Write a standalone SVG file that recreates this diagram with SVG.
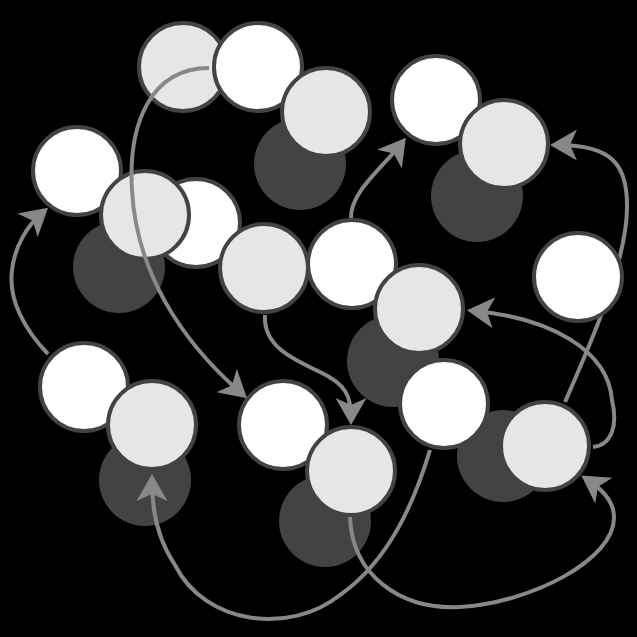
<svg xmlns="http://www.w3.org/2000/svg" width="637" height="637" viewBox="0 0 637 637">
<style>
.n{stroke:#434343;stroke-width:4}
.w{fill:#ffffff}
.l{fill:#e6e6e6}
.s{fill:#434343}
.c{fill:none;stroke:#888888;stroke-width:4}
</style>
<defs>
<marker id="ah" markerUnits="userSpaceOnUse" markerWidth="40" markerHeight="40" viewBox="-30 -20 40 40" refX="0" refY="0" orient="auto" overflow="visible">
<path d="M8,0 L-19,-15.5 L-12,0 L-19,15.5 Z" fill="#888888"/>
</marker>
</defs>
<rect width="637" height="637" fill="#000000"/>
<g id="shadows">
<circle class="s" cx="300" cy="164" r="46"/>
<circle class="s" cx="477" cy="196" r="46"/>
<circle class="s" cx="119" cy="267" r="46"/>
<circle class="s" cx="393" cy="361" r="46"/>
<circle class="s" cx="503" cy="456" r="46"/>
<circle class="s" cx="145" cy="480" r="46"/>
<circle class="s" cx="325" cy="521" r="46"/>
</g>
<g id="nA"><circle class="n l" cx="183" cy="67" r="44"/></g>
<g id="nB"><circle class="n w" cx="258" cy="67" r="44"/></g>
<g id="nC"><circle class="n l" cx="326" cy="112" r="44"/></g>
<g id="nD"><circle class="n w" cx="436" cy="100" r="44"/></g>
<g id="nE"><circle class="n l" cx="504" cy="144" r="44"/></g>
<g id="nF"><circle class="n w" cx="77" cy="171" r="44"/></g>
<g id="nH"><circle class="n w" cx="196" cy="223" r="44"/></g>
<g id="nG"><circle class="n l" cx="145" cy="215" r="44"/></g>
<g id="nI"><circle class="n l" cx="264" cy="268" r="44"/></g>
<g id="nJ"><circle class="n w" cx="352" cy="264" r="44"/></g>
<g id="nK"><circle class="n l" cx="419" cy="309" r="44"/></g>
<g id="nM"><circle class="n w" cx="444" cy="404" r="44"/></g>
<g id="nN"><circle class="n l" cx="545" cy="446" r="44"/></g>
<g id="nO"><circle class="n w" cx="84" cy="387" r="44"/></g>
<g id="nP"><circle class="n l" cx="152" cy="425" r="44"/></g>
<g id="nQ"><circle class="n w" cx="283" cy="425" r="44"/></g>
<g id="nR"><circle class="n l" cx="351" cy="471" r="44"/></g>
<g id="connectors">
<path class="c" marker-end="url(#ah)" d="M209,68 C150,68 128,125 132,190 C136,270 180,340 241,393"/>
<path class="c" marker-end="url(#ah)" d="M351,218 C350,192 385,165 401,144"/>
<path class="c" marker-end="url(#ah)" d="M565,402 C590,345 628,260 627,205 C627,165 612,145 558,145"/>
<path class="c" marker-end="url(#ah)" d="M265,315 C263,345 290,358 320,372 C345,384 351,395 351,417"/>
<path class="c" marker-end="url(#ah)" d="M593,447 C612,445 618,425 612,400 C608,350 550,318 475,311"/>
<path class="c" marker-end="url(#ah)" d="M350,517 C352,575 400,610 460,607 C530,603 615,560 614,517 C614,500 600,488 588,480"/>
<path class="c" marker-end="url(#ah)" d="M430,450 C415,500 390,560 340,595 C290,635 205,625 175,565 C158,540 152,510 152,482"/>
<path class="c" marker-end="url(#ah)" d="M48,354 C25,330 8,300 12,270 C15,245 28,225 42,213"/>
</g>
<g id="nL"><circle class="n w" cx="578" cy="277" r="44"/></g>
</svg>
